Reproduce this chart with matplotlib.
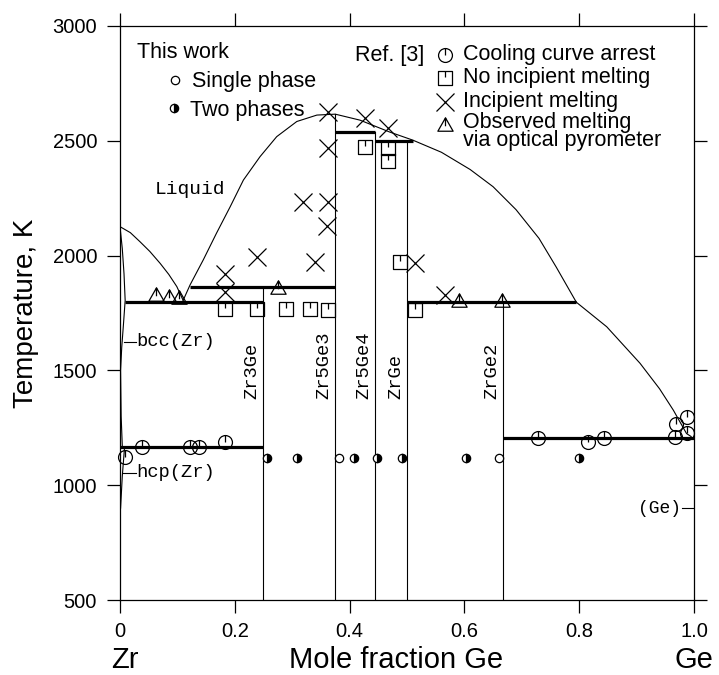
import matplotlib
matplotlib.use("Agg")
import matplotlib.pyplot as plt
from matplotlib.path import Path

plt.rcParams['font.family'] = ['Liberation Sans', 'DejaVu Sans']
LABEL_FONT = 'Liberation Mono'

# ---- phase boundaries (mole fraction Ge, temperature K) ----
liq_zr_x = [0.0, 0.018, 0.035, 0.052, 0.07, 0.085, 0.099, 0.11]
liq_zr_y = [2126, 2100, 2060, 2018, 1966, 1918, 1865, 1805]

liq_dome_x = [0.11, 0.122, 0.145, 0.168, 0.192, 0.215, 0.244, 0.273, 0.308, 0.343, 0.375,
              0.418, 0.47, 0.51, 0.56, 0.61, 0.65, 0.69, 0.73, 0.76, 0.795]
liq_dome_y = [1805, 1872, 1981, 2097, 2213, 2329, 2431, 2518, 2584, 2612, 2616,
              2590, 2538, 2503, 2450, 2375, 2300, 2200, 2075, 1950, 1797]

liq_ge_x = [0.795, 0.848, 0.906, 0.94, 0.964, 0.987, 0.995]
liq_ge_y = [1797, 1690, 1531, 1420, 1327, 1225, 1212]

bcc_x = [0.0, 0.004, 0.007, 0.009, 0.006, 0.003, 0.001, 0.002, 0.004]
bcc_y = [2126, 2030, 1920, 1805, 1700, 1600, 1500, 1300, 1170]

hcp_x = [0.008, 0.004, 0.001]
hcp_y = [1168, 1040, 900]

# compounds: x, top temperature
compound_names = ['Zr3Ge', 'Zr5Ge3', 'Zr5Ge4', 'ZrGe', 'ZrGe2']
compound_x = [0.25, 0.375, 0.444, 0.5, 0.667]
compound_top = [1865, 2616, 2540, 2500, 1797]
compound_label_x = [0.245, 0.37, 0.439, 0.495, 0.662]

# invariant lines: x start, x end, temperature
inv_x0 = [0.009, 0.122, 0.375, 0.444, 0.5, 0.667, 0.0]
inv_x1 = [0.25, 0.375, 0.444, 0.51, 0.795, 1.0, 0.25]
inv_t = [1800, 1865, 2540, 2500, 1797, 1207, 1168]

# ---- experimental points ----
single_x = [0.382, 0.661]
single_y = [1120, 1120]
two_x = [0.256, 0.308, 0.408, 0.447, 0.491, 0.603, 0.80]
two_y = [1120, 1120, 1120, 1120, 1120, 1120, 1120]

cool_x = [0.009, 0.038, 0.122, 0.138, 0.183, 0.728, 0.816, 0.844, 0.967, 0.987, 0.968, 0.987]
cool_y = [1124, 1168, 1168, 1168, 1190, 1207, 1190, 1204, 1211, 1226, 1267, 1298]

noinc_x = [0.183, 0.238, 0.29, 0.331, 0.363, 0.427, 0.467, 0.467, 0.488, 0.514]
noinc_y = [1766, 1766, 1766, 1766, 1762, 2475, 2470, 2410, 1972, 1765]

inc_x = [0.363, 0.363, 0.319, 0.363, 0.36, 0.34, 0.239, 0.183, 0.183, 0.427, 0.467, 0.514, 0.566]
inc_y = [2627, 2467, 2235, 2235, 2129, 1973, 1993, 1920, 1840, 2600, 2555, 1967, 1828]

obs_x = [0.063, 0.086, 0.102, 0.276, 0.59, 0.665]
obs_y = [1828, 1820, 1814, 1858, 1803, 1803]

# ---- marker shapes with a small tick from the top ----
tick = Path([(0, 1), (0, 0)])
m_circle = Path.make_compound_path(Path.unit_circle(), tick)
m_square = Path.make_compound_path(
    Path([(-1, -1), (1, -1), (1, 1), (-1, 1), (-1, -1)],
         [Path.MOVETO, Path.LINETO, Path.LINETO, Path.LINETO, Path.CLOSEPOLY]),
    Path([(0, 1), (0, 0.1)]))
m_tri = Path.make_compound_path(
    Path([(0, 1), (-1, -0.75), (1, -0.75), (0, 1)],
         [Path.MOVETO, Path.LINETO, Path.LINETO, Path.CLOSEPOLY]),
    Path([(0, 1), (0, -0.1)]))

fig = plt.figure(figsize=(7.19, 6.75), dpi=100)
ax = fig.add_axes([0.1669, 0.1111, 0.7983, 0.8504])

thin = 0.8
thick = 2.3
for xs, ys in [(liq_zr_x, liq_zr_y), (liq_dome_x, liq_dome_y), (liq_ge_x, liq_ge_y),
               (bcc_x, bcc_y), (hcp_x, hcp_y)]:
    ax.plot(xs, ys, color='black', lw=thin)

for x, top in zip(compound_x, compound_top):
    ax.plot([x, x], [500, top], color='black', lw=thin)
for x0, x1, t in zip(inv_x0, inv_x1, inv_t):
    ax.plot([x0, x1], [t, t], color='black', lw=thick, solid_capstyle='butt')

for name, lx in zip(compound_names, compound_label_x):
    ax.text(lx, 1375, name, rotation=90, ha='right', va='bottom',
            family=LABEL_FONT, fontsize=13.5)

ax.text(0.122, 2288, 'Liquid', ha='center', va='center', family=LABEL_FONT, fontsize=14)
ax.plot([0.007, 0.028], [1625, 1625], color='black', lw=thin)
ax.text(0.029, 1625, 'bcc(Zr)', ha='left', va='center', family=LABEL_FONT, fontsize=13.5)
ax.plot([0.005, 0.028], [1055, 1055], color='black', lw=thin)
ax.text(0.029, 1055, 'hcp(Zr)', ha='left', va='center', family=LABEL_FONT, fontsize=13.5)
ax.plot([0.979, 1.0], [900, 900], color='black', lw=thin)
ax.text(0.978, 900, '(Ge)', ha='right', va='center', family=LABEL_FONT, fontsize=13)

mk = dict(linestyle='none', mec='black', mfc='none', mew=0.9, clip_on=False)
ax.plot(cool_x, cool_y, marker=m_circle, ms=10, **mk)
ax.plot(noinc_x, noinc_y, marker=m_square, ms=10.5, **mk)
ax.plot(inc_x, inc_y, marker='x', ms=12.5, **mk)
ax.plot(obs_x, obs_y, marker=m_tri, ms=11, **mk)
ax.plot(single_x, single_y, marker='o', ms=6, **mk)
ax.plot(two_x, two_y, linestyle='none', marker='o', ms=6, fillstyle='right',
        mfc='black', markerfacecoloralt='white', mec='black', mew=0.9)

# ---- key ----
T = ax.transAxes
lk = dict(linestyle='none', mec='black', mfc='none', mew=0.9, transform=T, clip_on=False)
fs = 15.5
ax.text(0.0296, 0.944, 'This work', transform=T, fontsize=fs, va='baseline')
ax.plot([0.0958], [0.906], marker='o', ms=6, **lk)
ax.text(0.1254, 0.893, 'Single phase', transform=T, fontsize=fs, va='baseline')
ax.plot([0.094], [0.857], linestyle='none', marker='o', ms=6, fillstyle='right', mfc='black',
        markerfacecoloralt='white', mec='black', mew=0.9, transform=T)
ax.text(0.122, 0.844, 'Two phases', transform=T, fontsize=fs, va='baseline')

ax.text(0.409, 0.9395, 'Ref. [3]', transform=T, fontsize=fs, va='baseline')
key_markers = [(m_circle, 10), (m_square, 10.5), ('x', 12.5), (m_tri, 11)]
key_y = [0.9495, 0.909, 0.868, 0.8275]
key_text = ['Cooling curve arrest', 'No incipient melting', 'Incipient melting',
            'Observed melting\nvia optical pyrometer']
# baseline of the last line of each entry
key_base = [0.9408, 0.9002, 0.8584, 0.7915]
for (m, s), y, t, b in zip(key_markers, key_y, key_text, key_base):
    ax.plot([0.566], [y], marker=m, ms=s, **lk)
    ax.text(0.5976, b, t, transform=T, fontsize=fs, va='baseline', linespacing=0.8)

# ---- axes ----
ax.set_xlim(0, 1)
ax.set_ylim(500, 3000)
ax.set_xticks([0, 0.2, 0.4, 0.6, 0.8, 1.0])
ax.set_xticklabels(['0', '0.2', '0.4', '0.6', '0.8', '1.0'])
ax.set_yticks([500, 1000, 1500, 2000, 2500, 3000])
ax.tick_params(direction='out', length=9.5, width=0.9, labelsize=14.5,
               top=True, right=True, labeltop=False, labelright=False)
ax.tick_params(axis='x', pad=6.5)
ax.tick_params(axis='y', pad=7)
for sp in ax.spines.values():
    sp.set_linewidth(0.9)
ax.set_ylabel('Temperature, K', fontsize=20, labelpad=10)

fig.text(0.5508, 0.002, 'Mole fraction Ge', ha='center', va='bottom', fontsize=21)
fig.text(0.1738, 0.002, 'Zr', ha='center', va='bottom', fontsize=21)
fig.text(0.9645, 0.002, 'Ge', ha='center', va='bottom', fontsize=21)

fig.savefig('out.png', dpi=100)
